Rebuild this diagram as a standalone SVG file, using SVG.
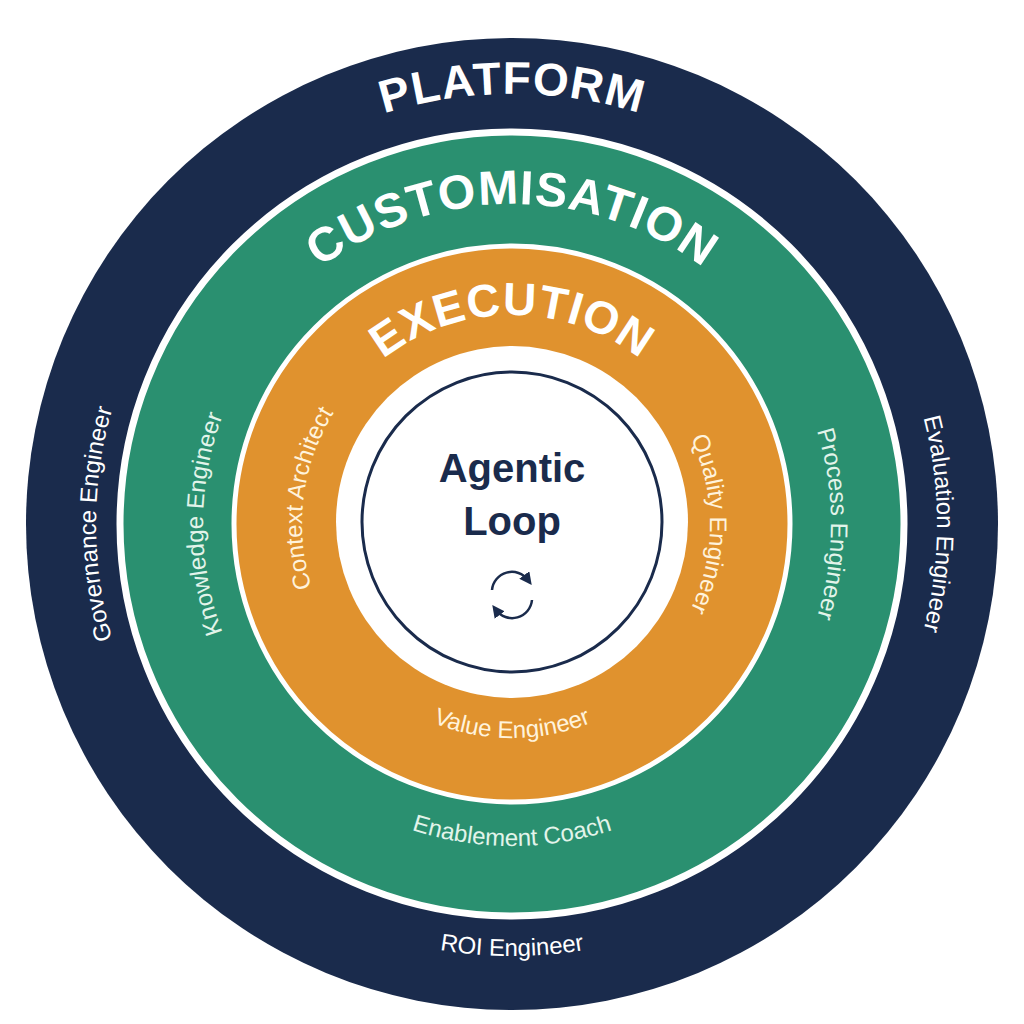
<svg xmlns="http://www.w3.org/2000/svg" width="1024" height="1024" viewBox="0 0 1024 1024">
<style>
.big{font-family:"Liberation Sans",Arial,sans-serif;font-weight:bold;fill:#fff;}
.lbl{font-family:"Liberation Sans",Arial,sans-serif;font-size:24px;}
.n{fill:#fff}.g{fill:#e2f4ea}.o{fill:#fff3dc}
</style>
<defs>
<path id="c430" d="M512,954 A430,430 0 1 1 512,94 A430,430 0 1 1 512,954"/>
<path id="c320" d="M512,844 A320,320 0 1 1 512,204 A320,320 0 1 1 512,844"/>
<path id="c209" d="M512,733 A209,209 0 1 1 512,315 A209,209 0 1 1 512,733"/>
<path id="c416" d="M512,940 A416,416 0 1 1 512,108 A416,416 0 1 1 512,940"/>
<path id="c425" d="M512,949 A425,425 0 1 1 512,99 A425,425 0 1 1 512,949"/>
<path id="c309" d="M512,833 A309,309 0 1 1 512,215 A309,309 0 1 1 512,833"/>
<path id="c319" d="M512,843 A319,319 0 1 1 512,205 A319,319 0 1 1 512,843"/>
<path id="c210" d="M512,734 A210,210 0 1 1 512,314 A210,210 0 1 1 512,734"/>
<path id="c198" d="M512,722 A198,198 0 1 1 512,326 A198,198 0 1 1 512,722"/>
<path id="b432" d="M80,524 A432,432 0 0 0 944,524"/>
<path id="b322" d="M190,524 A322,322 0 0 0 834,524"/>
<path id="b214" d="M298,524 A214,214 0 0 0 726,524"/>
<marker id="ah" viewBox="0 0 10 10" refX="5" refY="5" markerWidth="5" markerHeight="5" orient="auto"><path d="M0,0 L10,5 L0,10 z" fill="#1a2b4c"/></marker>
</defs>
<rect width="1024" height="1024" fill="#fff"/>
<g id="platform">
<circle cx="512" cy="524" r="486" fill="#1a2b4c"/>
<text class="big" font-size="46" letter-spacing="1"><textPath href="#c430" startOffset="50%" text-anchor="middle">PLATFORM</textPath></text>
<text class="lbl n"><textPath href="#c416" startOffset="25%" text-anchor="middle">Governance Engineer</textPath></text>
<text class="lbl n"><textPath href="#c425" startOffset="75%" text-anchor="middle">Evaluation Engineer</textPath></text>
<text class="lbl n"><textPath href="#b432" startOffset="50%" text-anchor="middle">ROI Engineer</textPath></text>
</g>
<g id="customisation">
<circle cx="512" cy="524" r="392" fill="#2a9070" stroke="#fff" stroke-width="7"/>
<text class="big" font-size="48" letter-spacing="1"><textPath href="#c320" startOffset="50%" text-anchor="middle">CUSTOMISATION</textPath></text>
<text class="lbl g"><textPath href="#c309" startOffset="25%" text-anchor="middle">Knowledge Engineer</textPath></text>
<text class="lbl g"><textPath href="#c319" startOffset="75%" text-anchor="middle">Process Engineer</textPath></text>
<text class="lbl g"><textPath href="#b322" startOffset="50%" text-anchor="middle">Enablement Coach</textPath></text>
</g>
<g id="execution">
<circle cx="512" cy="524" r="278" fill="#e0922e" stroke="#fff" stroke-width="5"/>
<text class="big" font-size="46" fill="#fff6e6" letter-spacing="1"><textPath href="#c209" startOffset="50%" text-anchor="middle">EXECUTION</textPath></text>
<text class="lbl o"><textPath href="#c210" startOffset="27%" text-anchor="middle">Context Architect</textPath></text>
<text class="lbl o"><textPath href="#c198" startOffset="75%" text-anchor="middle">Quality Engineer</textPath></text>
<text class="lbl o"><textPath href="#b214" startOffset="50%" text-anchor="middle">Value Engineer</textPath></text>
</g>
<g id="agentic-loop">
<circle cx="512" cy="522" r="176" fill="#fff"/>
<circle cx="512" cy="522" r="150" fill="none" stroke="#1a2b4c" stroke-width="3"/>
<text x="512" y="482" text-anchor="middle" font-family="Liberation Sans,Arial,sans-serif" font-size="40" font-weight="bold" fill="#1a2b4c">Agentic</text>
<text x="512" y="535" text-anchor="middle" font-family="Liberation Sans,Arial,sans-serif" font-size="40" font-weight="bold" fill="#1a2b4c">Loop</text>
<path d="M492,590 A20,20 0 0 1 528,580" fill="none" stroke="#1a2b4c" stroke-width="2.5" marker-end="url(#ah)"/>
<path d="M532,600 A20,20 0 0 1 496,610" fill="none" stroke="#1a2b4c" stroke-width="2.5" marker-end="url(#ah)"/>
</g>
</svg>
